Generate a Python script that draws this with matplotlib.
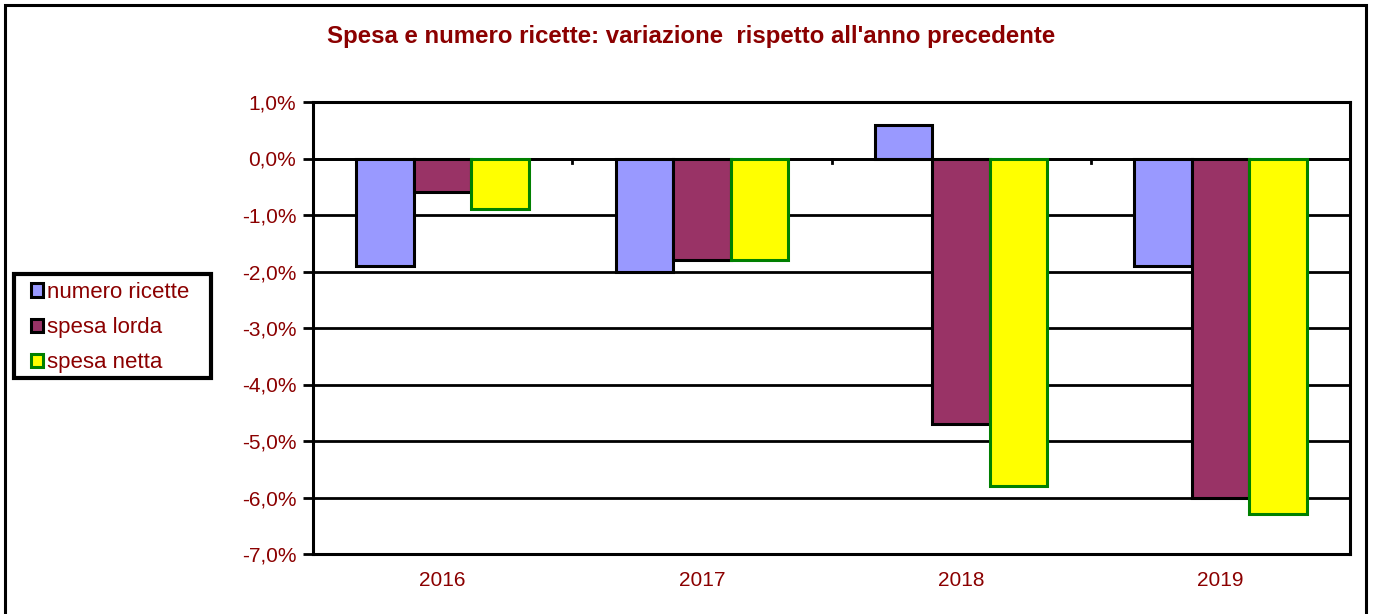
import matplotlib
matplotlib.use("Agg")
import matplotlib.pyplot as plt
import numpy as np
from matplotlib.ticker import FuncFormatter, MultipleLocator
from matplotlib.patches import Rectangle

years = ["2016", "2017", "2018", "2019"]
numero_ricette = [-1.9, -2.0, 0.6, -1.9]
spesa_lorda = [-0.6, -1.8, -4.7, -6.0]
spesa_netta = [-0.9, -1.8, -5.8, -6.3]
series_names = ["numero ricette", "spesa lorda", "spesa netta"]
title = "Spesa e numero ricette: variazione  rispetto all'anno precedente"

txt = "#8B0000"
plt.rcParams['font.family'] = ['Liberation Sans', 'DejaVu Sans']

W, H = 1373, 614
fig = plt.figure(figsize=(W / 100, H / 100), dpi=100)
ax = fig.add_axes([313/W, 1-554/H, (1350-313)/W, (554-102)/H])

x = np.arange(len(years))
w = 0.222
styles = [("#9999FF", "black"), ("#993366", "black"), ("#FFFF00", "#008000")]
for i, (vals, (fc, ec)) in enumerate(zip([numero_ricette, spesa_lorda, spesa_netta], styles)):
    ax.bar(x + (i - 1) * w, vals, w, color=fc, edgecolor=ec, linewidth=2.2,
           label=series_names[i], zorder=3)

ax.set_xlim(-0.5, 3.5)
ax.set_ylim(-7.0, 1.0)
ax.yaxis.set_major_locator(MultipleLocator(1.0))
ax.yaxis.set_major_formatter(FuncFormatter(lambda v, p: f"{v:.1f}%".replace(".", ",")))
ax.grid(axis='y', color='black', linewidth=2, zorder=1)
ax.set_axisbelow(True)
ax.set_xticks(x)
ax.set_xticklabels(years)
ax.tick_params(axis='x', length=0, pad=12, labelsize=15, labelcolor=txt)
ax.tick_params(axis='y', length=7, width=2, pad=5, labelsize=15, labelcolor=txt)
for s in ax.spines.values():
    s.set_linewidth(2.2)
    s.set_color('black')

# small ticks on the zero line between categories
for b in np.arange(0.5, len(years) - 0.5 + 1e-9, 1.0):
    ax.plot([b, b], [0, -0.08], color='black', linewidth=2, zorder=2)
ax.axhline(0, color='black', linewidth=2, zorder=2)

fig.text(691/W, 1-37/H, title, ha='center', va='center', fontsize=17.3,
         fontweight='bold', color=txt)

leg = fig.legend(loc='upper left', bbox_to_anchor=(31/W, 1-282/H), fontsize=16,
                 frameon=False, handlelength=0.55, handleheight=0.55,
                 handletextpad=0.15, labelspacing=0.64, borderpad=0,
                 borderaxespad=0, labelcolor=txt)
# legend frame
fig.patches.append(Rectangle((14/W, 1-378/H), (211-14)/W, (378-274)/H,
                             transform=fig.transFigure, fill=False, edgecolor='black',
                             linewidth=3))

# figure border
fig.patches.append(Rectangle((5/W, -0.05), (1366-5)/W, 1.05 - 5/H,
                             transform=fig.transFigure, fill=False, edgecolor='black',
                             linewidth=2.2))

fig.savefig("out.png", dpi=100)
